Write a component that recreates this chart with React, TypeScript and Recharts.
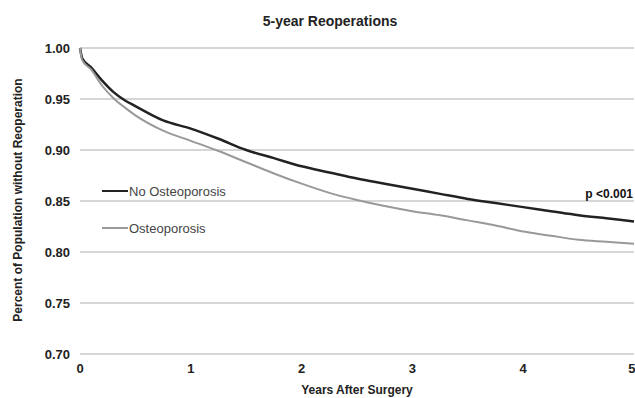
import React from 'react';
import { LineChart, Line, XAxis, YAxis, CartesianGrid } from 'recharts';

// years after surgery
const years = [0, 0.02, 0.1, 0.2, 0.3, 0.4, 0.5, 0.75, 1, 1.25, 1.5, 1.75, 2, 2.25, 2.5, 2.75, 3, 3.25, 3.5, 3.75, 4, 4.25, 4.5, 4.75, 5];
const noOsteoporosis = [1.0, 0.99, 0.981, 0.968, 0.957, 0.949, 0.943, 0.929, 0.921, 0.911, 0.9, 0.892, 0.884, 0.878, 0.872, 0.867, 0.862, 0.857, 0.852, 0.848, 0.844, 0.84, 0.836, 0.833, 0.83];
const osteoporosis = [1.0, 0.988, 0.979, 0.963, 0.951, 0.942, 0.934, 0.919, 0.909, 0.899, 0.888, 0.877, 0.867, 0.858, 0.851, 0.845, 0.84, 0.836, 0.831, 0.826, 0.82, 0.816, 0.812, 0.81, 0.808];

const xTicks = [0, 1, 2, 3, 4, 5];
const yTicks = [0.7, 0.75, 0.8, 0.85, 0.9, 0.95, 1.0];

const data = years.map((t, i) => ({ t, none: noOsteoporosis[i], osteo: osteoporosis[i] }));

const FONT = '"Liberation Sans", Arial, sans-serif';

const LegendBox = () => (
  <div style={{ position: 'absolute', left: 102, top: 182, fontFamily: FONT, fontSize: 13, color: '#444', whiteSpace: 'nowrap' }}>
    <div style={{ display: 'flex', alignItems: 'center', height: 18 }}>
      <span style={{ width: 26, height: 0, borderTop: '2.5px solid #222', marginRight: 1 }} />
      <span>No Osteoporosis</span>
    </div>
    <div style={{ display: 'flex', alignItems: 'center', height: 18, marginTop: 19 }}>
      <span style={{ width: 26, height: 0, borderTop: '2px solid #999', marginRight: 1 }} />
      <span>Osteoporosis</span>
    </div>
  </div>
);

const App = () => {
  return (
    <div style={{ position: 'absolute', left: 0, top: 0, width: 635, height: 398, background: '#fff', fontFamily: FONT, overflow: 'hidden' }}>
      <LineChart width={635} height={398} data={data} margin={{ top: 48, right: 1, left: 0, bottom: 0 }}>
        <CartesianGrid horizontal vertical={false} stroke="#c8c8c8" strokeWidth={1.5} />
        <XAxis
          dataKey="t"
          type="number"
          domain={[0, 5]}
          ticks={xTicks}
          height={44}
          axisLine={false}
          tickLine={false}
          tickSize={0}
          tickMargin={10}
          tick={{ fill: '#222', fontSize: 13, fontWeight: 'bold', fontFamily: FONT }}
        />
        <YAxis
          type="number"
          domain={[0.7, 1.0]}
          ticks={yTicks}
          width={80}
          axisLine={false}
          tickLine={false}
          tickSize={0}
          tickMargin={10}
          tickFormatter={(v: number) => v.toFixed(2)}
          tick={{ fill: '#222', fontSize: 13, fontWeight: 'bold', fontFamily: FONT }}
        />
        <Line type="monotone" dataKey="none" stroke="#222" strokeWidth={2.5} dot={false} isAnimationActive={false} />
        <Line type="monotone" dataKey="osteo" stroke="#999" strokeWidth={2} dot={false} isAnimationActive={false} />
      </LineChart>
      <div style={{ position: 'absolute', left: 0, width: 660, top: 13, textAlign: 'center', fontSize: 14, fontWeight: 600, color: '#222' }}>
        5-year Reoperations
      </div>
      <div
        style={{
          position: 'absolute', left: 18, top: 201, width: 300, marginLeft: -150, marginTop: -8,
          textAlign: 'center', fontSize: 12, fontWeight: 600, color: '#222', transform: 'rotate(-90deg)', whiteSpace: 'nowrap',
        }}
      >
        Percent of Population without Reoperation
      </div>
      <div style={{ position: 'absolute', right: 2, top: 187, fontSize: 12, fontWeight: 'bold', color: '#111', whiteSpace: 'nowrap' }}>
        p &lt;0.001
      </div>
      <div style={{ position: 'absolute', left: 0, width: 714, top: 383, textAlign: 'center', fontSize: 12, fontWeight: 600, color: '#222' }}>
        Years After Surgery
      </div>
      <LegendBox />
    </div>
  );
};

export default App;
